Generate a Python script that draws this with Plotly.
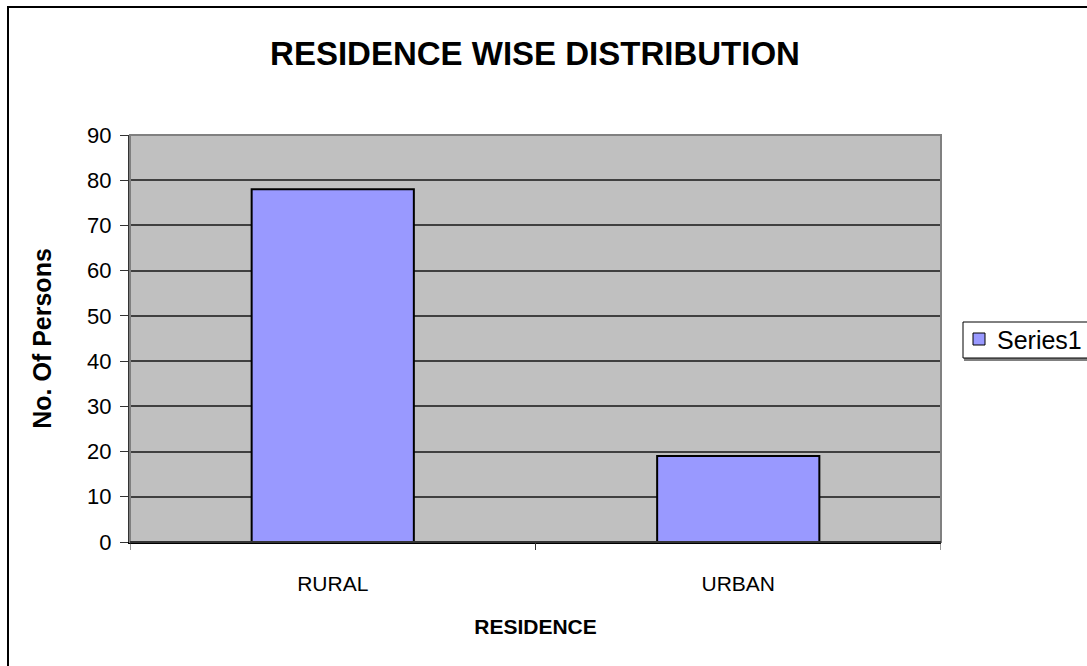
import plotly.graph_objects as go

categories = ["RURAL", "URBAN"]
values = [78, 19]
y_ticks = [0, 10, 20, 30, 40, 50, 60, 70, 80, 90]
series_name = "Series1"

W, H = 1087, 666
L, R, T, B = 130, 146, 135, 124
pw, ph = W - L - R, H - T - B

def px_x(x):
    return (x - L) / pw

def px_y(y):
    return (H - B - y) / ph

fig = go.Figure()
fig.add_trace(go.Bar(
    x=categories, y=values, name=series_name,
    marker=dict(color="#9999FF", line=dict(color="#000000", width=2)),
    showlegend=False,
))

fig.update_layout(
    width=W, height=H, autosize=False,
    margin=dict(l=L, r=R, t=T, b=B),
    paper_bgcolor="white", plot_bgcolor="#C0C0C0",
    bargap=0.6, showlegend=False,
    font=dict(family="Arial, Liberation Sans, sans-serif", color="black"),
    title=dict(text="<b>RESIDENCE WISE DISTRIBUTION</b>", x=px_x(535), xref="paper",
               xanchor="center", y=1 - 53 / H, yanchor="middle",
               font=dict(size=33, color="black")),
    xaxis=dict(
        title=dict(text="<b>RESIDENCE</b>", font=dict(size=21), standoff=25),
        tickfont=dict(size=21), showgrid=False, ticklabelstandoff=22,
        showline=True, linecolor="#000000", linewidth=2,
        ticks="", range=[-0.5, 1.5],
    ),
    yaxis=dict(
        title=dict(text="<b>No. Of Persons</b>", font=dict(size=25), standoff=28),
        tickvals=y_ticks, range=[0, 90], tickfont=dict(size=22),
        ticklabelstandoff=4,
        showgrid=True, gridcolor="#404040", gridwidth=2,
        showline=True, linecolor="#333333", linewidth=2,
        ticks="outside", ticklen=8, tickcolor="#333333", tickwidth=1,
        zeroline=False,
    ),
)

# plot area frame (gray top/right) and category tick marks
fig.add_shape(type="rect", xref="paper", yref="paper", x0=0, x1=1, y0=0, y1=1,
              line=dict(color="#808080", width=2), layer="above")
for xv in [-0.5, 0.5, 1.5]:
    fig.add_shape(type="line", xref="x", yref="paper", x0=xv, x1=xv, y0=0, y1=-8 / ph,
                  line=dict(color="#333333", width=1))
fig.add_shape(type="line", xref="paper", yref="paper", x0=0, x1=1, y0=0, y1=0,
              line=dict(color="#333333", width=2), layer="above")

# legend box (drawn by hand so it can run off the right edge like the original)
fig.add_shape(type="rect", xref="paper", yref="paper",
              x0=px_x(965), x1=px_x(1095), y0=px_y(360), y1=px_y(324),
              line=dict(color="#808080", width=2), fillcolor="#808080")
fig.add_shape(type="rect", xref="paper", yref="paper",
              x0=px_x(963), x1=px_x(1095), y0=px_y(358), y1=px_y(322),
              line=dict(color="black", width=1), fillcolor="white")
fig.add_shape(type="rect", xref="paper", yref="paper",
              x0=px_x(973), x1=px_x(985), y0=px_y(345), y1=px_y(333),
              line=dict(color="black", width=1), fillcolor="#9999FF")
fig.add_annotation(text=series_name, xref="paper", yref="paper",
                   x=px_x(995), y=px_y(340), xanchor="left", yanchor="middle",
                   showarrow=False, font=dict(size=25, color="black"))

# outer border of the chart
fig.add_shape(type="rect", xref="paper", yref="paper",
              x0=px_x(8), x1=px_x(1100), y0=px_y(7), y1=px_y(680),
              line=dict(color="black", width=2))

fig.write_html("out.html")
